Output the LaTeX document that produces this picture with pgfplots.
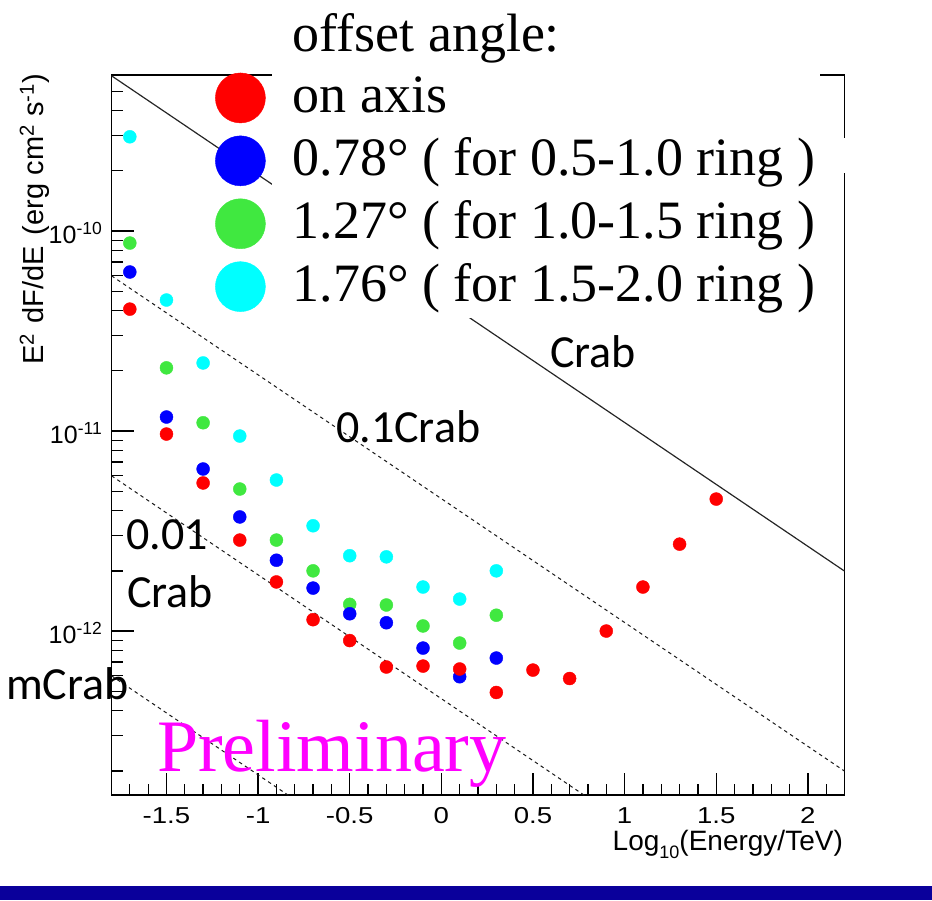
\documentclass[border=0pt]{standalone}
\usepackage{fontspec}
\setmainfont{Liberation Sans}
\newfontfamily\libserif{Liberation Serif}
\newfontfamily\carlito{Carlito}
\usepackage{pgfplots}
\pgfplotsset{compat=1.18}
\definecolor{cred}{RGB}{255,0,0}
\definecolor{cblue}{RGB}{0,0,255}
\definecolor{cgreen}{RGB}{64,232,64}
\definecolor{ccyan}{RGB}{0,255,255}
\definecolor{cmag}{RGB}{255,0,255}
\definecolor{barblue}{RGB}{10,0,155}
\newcommand{\wide}[1]{\scalebox{1.2}[1]{#1}}

\begin{document}
\begin{tikzpicture}
\useasboundingbox (0,0) rectangle (932pt,900pt);
\fill[barblue] (0,0) rectangle (932pt,14pt);
\begin{axis}[
  at={(111.5pt,105pt)}, anchor=south west,
  scale only axis, width=733pt, height=720pt,
  ymode=log, xmin=-1.8, xmax=2.2, ymin=1.514e-13, ymax=6.026e-10,
  clip mode=individual,
  tick pos=left,
  axis line style={line width=1.6pt},
  every tick/.style={black, line width=1.3pt},
  major tick length=22pt, minor tick length=11pt,
  xtick={-1.5,-1,-0.5,0,0.5,1,1.5,2},
  xticklabels={\wide{-1.5},\wide{-1},\wide{-0.5},\wide{0},\wide{0.5},\wide{1},\wide{1.5},\wide{2}},
  minor xtick={-1.7,-1.6,-1.4,-1.3,-1.2,-1.1,-0.9,-0.8,-0.7,-0.6,-0.4,-0.3,-0.2,-0.1,0.1,0.2,0.3,0.4,0.6,0.7,0.8,0.9,1.1,1.2,1.3,1.4,1.6,1.7,1.8,1.9,2.1},
  ytick={1e-12,1e-11,1e-10},
  yticklabels={10\textsuperscript{-12},10\textsuperscript{-11},10\textsuperscript{-10}},
  minor ytick={2e-13,3e-13,4e-13,5e-13,6e-13,7e-13,8e-13,9e-13,2e-12,3e-12,4e-12,5e-12,6e-12,7e-12,8e-12,9e-12,2e-11,3e-11,4e-11,5e-11,6e-11,7e-11,8e-11,9e-11,2e-10,3e-10,4e-10,5e-10},
  xticklabel style={font=\fontsize{23}{23}\selectfont, anchor=base, inner sep=0pt, yshift=-28pt},
  yticklabel style={font=\fontsize{25}{25}\selectfont, anchor=base east, inner sep=0pt, xshift=-9pt, yshift=-12pt},
  xlabel={Log\raisebox{-0.55ex}{\fontsize{18}{18}\selectfont 10}(Energy/TeV)},
  xlabel style={at={(rel axis cs:0.998,-0.0770)}, anchor=base east, inner sep=0pt, font=\fontsize{28}{28}\selectfont},
  legend cell align=left,
  legend style={at={(rel axis cs:0.1412,1.0875)}, anchor=north west, draw=none, fill=none,
    inner sep=0pt, row sep=12.5pt, font=\libserif\fontsize{54}{63}\selectfont,
    nodes={inner sep=0pt, text height=39pt, text depth=9pt},
    /tikz/every odd column/.append style={column sep=27pt}},
]
\addlegendimage{empty legend}
\addlegendimage{legend image code/.code={\fill[cred] (0pt,0pt) circle (25pt);}}
\addlegendimage{legend image code/.code={\fill[cblue] (0pt,0pt) circle (25pt);}}
\addlegendimage{legend image code/.code={\fill[cgreen] (0pt,0pt) circle (25pt);}}
\addlegendimage{legend image code/.code={\fill[ccyan] (0pt,0pt) circle (25pt);}}

% Crab reference spectra
\addplot[forget plot, black!85, line width=1.2pt] coordinates {(-1.8,5.975e-10) (2.2,1.995e-12)};
\addplot[forget plot, black!90, line width=1pt, dash pattern=on 3.5pt off 3.5pt] coordinates {(-1.8,5.975e-11) (2.2,1.995e-13)};
\addplot[forget plot, black!90, line width=1pt, dash pattern=on 3.5pt off 3.5pt] coordinates {(-1.8,5.975e-12) (2.2,1.995e-14)};
\addplot[forget plot, black!90, line width=1pt, dash pattern=on 3.5pt off 3.5pt] coordinates {(-1.8,5.975e-13) (2.2,1.995e-15)};

% sensitivity points
\addplot[forget plot, only marks, mark=*, mark size=6.5pt, ccyan] coordinates {
(-1.7,2.96e-10) (-1.5,4.52e-11) (-1.3,2.19e-11) (-1.1,9.44e-12) (-0.9,5.69e-12) (-0.7,3.36e-12)
(-0.5,2.38e-12) (-0.3,2.35e-12) (-0.1,1.66e-12) (0.1,1.445e-12) (0.3,2.0e-12)};
\addplot[forget plot, only marks, mark=*, mark size=6.5pt, cgreen] coordinates {
(-1.7,8.71e-11) (-1.5,2.07e-11) (-1.3,1.10e-11) (-1.1,5.13e-12) (-0.9,2.85e-12) (-0.7,2.0e-12)
(-0.5,1.36e-12) (-0.3,1.35e-12) (-0.1,1.06e-12) (0.1,8.71e-13) (0.3,1.20e-12)};
\addplot[forget plot, only marks, mark=*, mark size=6.5pt, cblue] coordinates {
(-1.7,6.24e-11) (-1.5,1.175e-11) (-1.3,6.46e-12) (-1.1,3.72e-12) (-0.9,2.26e-12) (-0.7,1.64e-12)
(-0.5,1.22e-12) (-0.3,1.10e-12) (-0.1,8.22e-13) (0.1,5.91e-13) (0.3,7.33e-13)};
\addplot[forget plot, only marks, mark=*, mark size=6.5pt, cred] coordinates {
(-1.7,4.07e-11) (-1.5,9.66e-12) (-1.3,5.50e-12) (-1.1,2.85e-12) (-0.9,1.76e-12) (-0.7,1.14e-12)
(-0.5,8.96e-13) (-0.3,6.61e-13) (-0.1,6.68e-13) (0.1,6.46e-13) (0.3,4.93e-13) (0.5,6.38e-13)
(0.7,5.79e-13) (0.9,1.0e-12) (1.1,1.66e-12) (1.3,2.72e-12) (1.5,4.57e-12)};

% white background of the pasted legend box
\fill[white] (rel axis cs:0.219,0.6625) rectangle (rel axis cs:0.9666,1.12);
\fill[white] (rel axis cs:0.99,0.8639) rectangle (rel axis cs:1.01,0.9125);

\legend{offset angle:,on axis,0.78° ( for 0.5-1.0 ring ),1.27° ( for 1.0-1.5 ring ),1.76° ( for 1.5-2.0 ring )}
\end{axis}

% y axis title, aligned with the top of the frame as ROOT does
\node[rotate=90, anchor=base east, inner sep=0pt, font=\fontsize{29}{29}\selectfont] at (43pt,826pt)
  {E\textsuperscript{2}\hspace{0.35em}dF/dE\hspace{0.1em} (erg cm\textsuperscript{2} s\textsuperscript{-1})};

\node[anchor=base west, inner sep=0pt, font=\carlito\fontsize{46}{46}\selectfont] at (550pt,532pt) {Crab};
\node[anchor=base west, inner sep=0pt, font=\carlito\fontsize{46}{46}\selectfont] at (336pt,457pt) {0.1Crab};
\node[anchor=base west, inner sep=0pt, font=\carlito\fontsize{46}{46}\selectfont] at (126pt,350pt) {0.01};
\node[anchor=base west, inner sep=0pt, font=\carlito\fontsize{46}{46}\selectfont] at (127pt,292pt) {Crab};
\node[anchor=base west, inner sep=0pt, font=\carlito\fontsize{46}{46}\selectfont] at (6pt,200pt) {mCrab};
\node[anchor=base west, inner sep=0pt, text=cmag, font=\libserif\fontsize{74}{74}\selectfont] at (157pt,128pt) {Preliminary};
\end{tikzpicture}
\end{document}
